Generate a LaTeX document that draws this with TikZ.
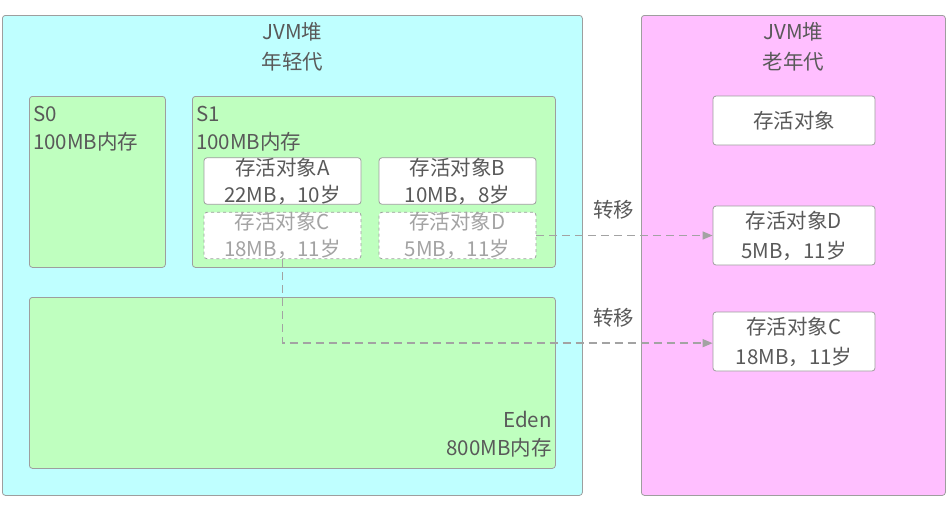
\documentclass[tikz,border=0pt]{standalone}
\usepackage{fontspec}
\setmainfont{Noto Sans CJK SC}
\usetikzlibrary{arrows.meta,positioning}
\definecolor{younggen}{HTML}{BFFFFF}
\definecolor{oldgen}{HTML}{FFBFFF}
\definecolor{space}{HTML}{BFFFBF}
\definecolor{txt}{HTML}{595959}
\definecolor{frame}{HTML}{9E9E9E}
\definecolor{faded}{HTML}{A3A3A3}

\begin{document}
\begin{tikzpicture}[
  x=1pt,
  y=-1pt,
  font=\fontsize{20.5}{28}\selectfont,
  text=txt,
  region/.style={draw=frame,line width=0.8pt,rounded corners=3pt,
    inner sep=0pt,anchor=north west},
  objbox/.style={draw=frame,fill=white,line width=0.8pt,rounded corners=3pt,
    inner sep=0pt,align=center,minimum width=157pt,
    font=\fontsize{20.5}{27}\selectfont},
  gone/.style={objbox,dashed,text=faded},
  move/.style={draw=faded,line width=1.4pt,dash pattern=on 8pt off 5pt,
    -{Triangle[length=10pt,width=8pt]}}
]
  \useasboundingbox (0,0) rectangle (948,512);

  % Generations.
  \node[region,fill=younggen,minimum width=580pt,minimum height=480pt]
    (young) at (2,15) {};
  \node[region,fill=oldgen,minimum width=304pt,minimum height=480pt]
    (old) at (641,15) {};
  \node[align=center,font=\fontsize{20.5}{30}\selectfont,
    below=4pt of young.north] {JVM堆\\年轻代};
  \node[align=center,font=\fontsize{20.5}{30}\selectfont,
    below=4pt of old.north] {JVM堆\\老年代};

  % Spaces of the young generation.
  \node[region,fill=space,minimum width=136pt,minimum height=171pt]
    (s0) at (29,96) {};
  \node[region,fill=space,minimum width=363pt,minimum height=171pt]
    (s1) at (192,96) {};
  \node[region,fill=space,minimum width=526pt,minimum height=171pt]
    (eden) at (29,297) {};
  \node[align=left,anchor=north west,inner sep=4pt,yshift=-6pt]
    at (s0.north west) {S0\\100MB内存};
  \node[align=left,anchor=north west,inner sep=4pt,yshift=-6pt]
    at (s1.north west) {S1\\100MB内存};
  \node[align=right,anchor=south east,inner sep=4pt,yshift=7pt]
    at (eden.south east) {Eden\\800MB内存};

  % Objects in S1.
  \node[objbox,minimum height=44pt] (objA) at (282.5,181)
    {存活对象A\\22MB，10岁};
  \node[objbox,minimum height=44pt] (objB) at (457.5,181)
    {存活对象B\\10MB，8岁};
  \node[gone,minimum height=45pt] (objC) at (282.5,235.5)
    {存活对象C\\18MB，11岁};
  \node[gone,minimum height=45pt] (objD) at (457.5,235.5)
    {存活对象D\\5MB，11岁};

  % Objects in the old generation.
  \node[objbox,minimum width=162pt,minimum height=49pt] (oldObj) at (794,120.5)
    {存活对象};
  \node[objbox,minimum width=162pt,minimum height=59pt,
    font=\fontsize{20.5}{30}\selectfont] (oldD) at (794,235.5)
    {存活对象D\\5MB，11岁};
  \node[objbox,minimum width=162pt,minimum height=59pt,
    font=\fontsize{20.5}{30}\selectfont] (oldC) at (794,341.5)
    {存活对象C\\18MB，11岁};

  % Transfers.
  \draw[move] (objD.east) -- node[above=12pt,pos=0.44] (moveD) {转移} (oldD.west);
  \coordinate (bend) at ([yshift=-84pt]objC.south);
  \draw[move] (objC.south) -- (bend)
    -- node[above=12pt,pos=0.77] (moveC) {转移} (bend -| oldC.west);
\end{tikzpicture}
\end{document}
